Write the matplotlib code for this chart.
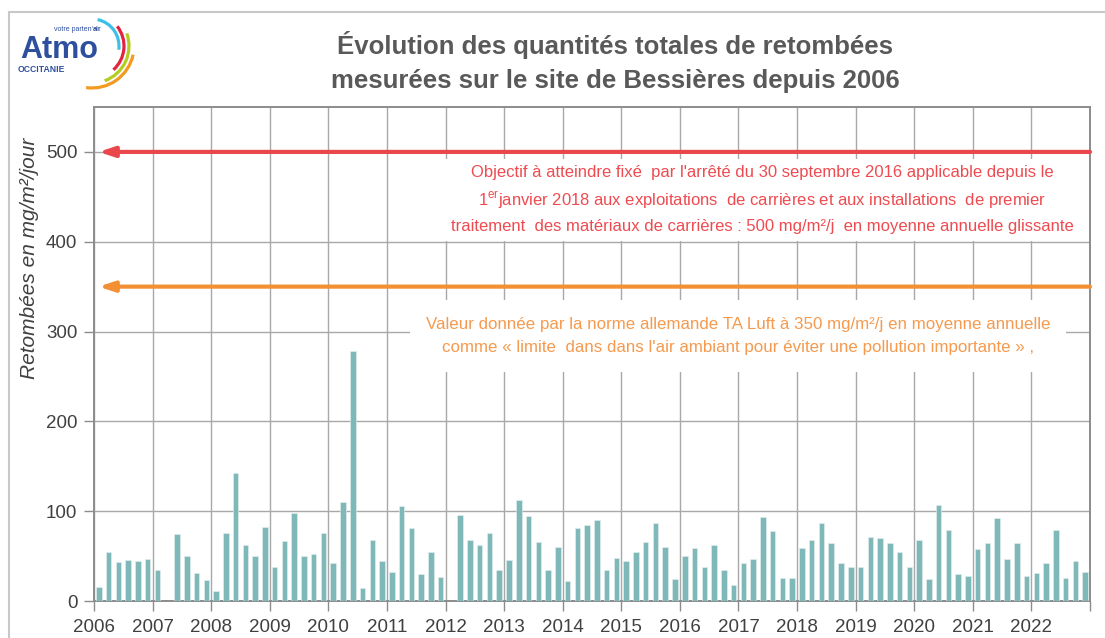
#!/usr/bin/env python3
"""
Évolution des quantités totales de retombées - site de Bessières depuis 2006.
Bar chart of dust fallout (mg/m²/jour), six measurement periods per year.
"""
import matplotlib
matplotlib.use('Agg')
import matplotlib.pyplot as plt
from matplotlib.patches import Arc, Rectangle

plt.rcParams['font.family'] = ['Liberation Sans', 'DejaVu Sans']
plt.rcParams['mathtext.fontset'] = 'custom'
plt.rcParams['mathtext.rm'] = 'Liberation Sans'

# ---- data -------------------------------------------------------------
years = list(range(2006, 2023))
periods_per_year = 6
# one row per year, six periods each (None = no measurement)
retombees = [
    [16, 54, 43, 46, 45, 47],      # 2006
    [34, None, 75, 50, 31, 23],    # 2007
    [11, 76, 143, 62, 50, 82],     # 2008
    [38, 67, 98, 50, 52, 76],      # 2009
    [42, 110, 278, 15, 68, 45],    # 2010
    [32, 106, 81, 30, 54, 27],     # 2011
    [None, 96, 68, 62, 76, 34],    # 2012
    [46, 113, 95, 66, 34, 60],     # 2013
    [22, 81, 85, 90, 35, 48],      # 2014
    [44, 54, 66, 87, 60, 25],      # 2015
    [50, 59, 38, 62, 35, 18],      # 2016
    [42, 47, 94, 78, 26, 26],      # 2017
    [59, 68, 87, 65, 42, 38],      # 2018
    [38, 71, 70, 65, 54, 38],      # 2019
    [68, 25, 107, 79, 30, 28],     # 2020
    [58, 65, 92, 47, 65, 28],      # 2021
    [31, 42, 79, 26, 44, 32],      # 2022
]
objectif_arrete = 500
valeur_ta_luft = 350
y_ticks = [0, 100, 200, 300, 400, 500]

title = ("Évolution des quantités totales de retombées\n"
         "mesurées sur le site de Bessières depuis 2006")
ylabel = "Retombées en mg/m²/jour"
txt_arrete = ("Objectif à atteindre fixé  par l'arrêté du 30 septembre 2016 applicable depuis le\n"
              "1$^{\\mathrm{er}}$janvier 2018 aux exploitations  de carrières et aux installations  de premier\n"
              "traitement  des matériaux de carrières : 500 mg/m²/j  en moyenne annuelle glissante")
txt_ta_luft = ("Valeur donnée par la norme allemande TA Luft à 350 mg/m²/j en moyenne annuelle\n"
               "comme « limite  dans dans l'air ambiant pour éviter une pollution importante » ,")

BAR = '#7fb8b8'
RED = '#e9474b'
ORANGE = '#f39035'
GRID = '#a8a8a8'
DARK = '#404040'
LOGO_BLUE = '#2e4f9e'

# flatten into (x, value) pairs
xs, vals = [], []
for yr, row in zip(years, retombees):
    for k, v in enumerate(row):
        if v is None:
            continue
        xs.append(yr + (k + 0.5) / periods_per_year)
        vals.append(v)

W, H = 1105, 638
fig = plt.figure(figsize=(W / 100, H / 100), dpi=100)

# light frame around the whole graphic
fig.patches.append(Rectangle((9 / W, -0.1), 1.2, 1 - 12 / H + 0.1, transform=fig.transFigure,
                             fill=False, edgecolor='#c8c8c8', linewidth=1.5))

ax = fig.add_axes([94 / W, 1 - 601 / H, (1090 - 94) / W, (601 - 107) / H])
ax.bar(xs, vals, width=0.095, color=BAR, edgecolor='#e6f0f0', linewidth=0.4, zorder=3)

ax.set_xlim(years[0], years[-1] + 1)
ax.set_ylim(0, 550)
ax.set_xticks(years + [years[-1] + 1])
ax.set_xticklabels([str(y) for y in years] + [''])
ax.set_yticks(y_ticks)
ax.grid(True, color=GRID, linewidth=1.0, zorder=0)
ax.set_axisbelow(True)
for s in ax.spines.values():
    s.set_color('#8c8c8c')
    s.set_linewidth(1.4)
ax.tick_params(axis='both', direction='out', length=7, width=1, color='#8c8c8c',
               labelcolor=DARK, labelsize=13.5)
ax.tick_params(axis='y', pad=5)
ax.tick_params(axis='x', pad=6)

# white boxes hiding the grid behind the annotations
ax.add_patch(Rectangle(((445 - 94) / 996, (601 - 241) / 494), (1085 - 445) / 996, 82 / 494,
                       transform=ax.transAxes, facecolor='white', edgecolor='none', zorder=1))
ax.add_patch(Rectangle(((410 - 94) / 996, (601 - 372) / 494), (1066 - 410) / 996, 72 / 494,
                       transform=ax.transAxes, facecolor='white', edgecolor='none', zorder=1))

# threshold lines with arrow heads on the left
for level, col in ((objectif_arrete, RED), (valeur_ta_luft, ORANGE)):
    ax.annotate('', xy=(years[0] + 0.08, level), xytext=(years[-1] + 1, level),
                arrowprops=dict(arrowstyle='-|>,head_length=0.9,head_width=0.3',
                                color=col, lw=3, shrinkA=0, shrinkB=0), zorder=4)

ax.text(2017.4, 447, txt_arrete, color='#ee4b50', fontsize=12, ha='center', va='center',
        linespacing=1.65, zorder=5)
ax.text(2017.0, 295, txt_ta_luft, color='#f59a4e', fontsize=12.2, ha='center', va='center',
        linespacing=1.65, zorder=5)

fig.text(615 / W, 1 - 62 / H, title, ha='center', va='center', fontsize=18.5,
         fontweight='bold', color='#595959', linespacing=1.5)
fig.text(30 / W, 1 - 258 / H, ylabel, rotation=90, ha='center', va='center',
         fontsize=15, style='italic', color=DARK)

# logo (pixel-like coordinates, y up)
lax = fig.add_axes([0, 1 - 90 / H, 150 / W, 90 / H])
lax.set_xlim(0, 150)
lax.set_ylim(0, 90)
lax.axis('off')
lax.text(20, 32, 'Atmo', fontsize=22, fontweight='bold', color=LOGO_BLUE, va='baseline')
lax.text(93, 59, "votre parten'", fontsize=5, color=LOGO_BLUE, ha='right', va='baseline')
lax.text(93, 59, 'air', fontsize=5, fontweight='bold', color=LOGO_BLUE, ha='left', va='baseline')
lax.text(18, 18, 'OCCITANIE', fontsize=6.2, fontweight='bold', color=LOGO_BLUE, va='baseline')
for r, t1, t2, col in ((27, -8, 78, '#3cc0ea'), (32, -48, 38, '#e2243f'),
                       (37, -70, 20, '#b5cc22'), (42, -98, -12, '#f39a20')):
    lax.add_patch(Arc((92, 44), 2 * r, 2 * r, theta1=t1, theta2=t2, color=col, lw=2.3))

fig.savefig('out.png', dpi=100)
